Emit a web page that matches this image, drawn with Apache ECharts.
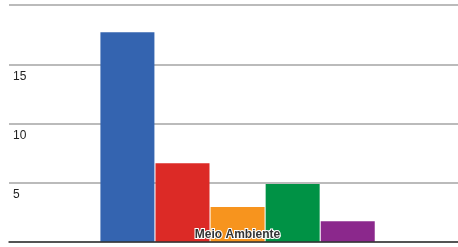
<!DOCTYPE html>
<html lang="pt">
<head>
    <meta charset="UTF-8">
    <title>Meio Ambiente</title>
    <style>
        html, body { margin: 0; padding: 0; background: #fff; }
    </style>
</head>
<body>
<div id="main" style="width: 458px; height: 247px;"></div>

<script src="https://cdn.jsdelivr.net/npm/echarts@6/dist/echarts.min.js"></script>

<script>
var categories = ['Meio Ambiente'];
var seriesNames = ['Série 1', 'Série 2', 'Série 3', 'Série 4', 'Série 5'];
var seriesValues = [17.7, 6.65, 2.95, 4.9, 1.75];
var seriesColors = ['#3464b0', '#dc2a26', '#f7941e', '#009245', '#8b288c'];

var myChart = echarts.init(document.getElementById('main'));

// empty first series: only there to nudge the bar group a few px right
var series = [{
    name: '',
    type: 'bar',
    barWidth: 8,
    barGap: '2%',
    silent: true,
    data: ['-']
}];

seriesNames.forEach(function (name, i) {
    series.push({
        name: name,
        type: 'bar',
        barWidth: 54,
        barGap: '2%',
        itemStyle: {color: seriesColors[i]},
        data: [seriesValues[i]]
    });
});

myChart.setOption({
    animation: false,
    grid: {left: 9, right: 0, top: 5, bottom: 5},
    xAxis: {
        type: 'category',
        data: categories,
        z: 10,
        axisLine: {lineStyle: {color: '#333', width: 1.5}},
        axisTick: {show: false},
        axisLabel: {
            inside: true,
            margin: 1,
            verticalAlign: 'bottom',
            padding: [0, 0, 0, 8],
            fontFamily: 'Liberation Sans',
            fontSize: 12,
            fontWeight: 'bold',
            color: '#333',
            textBorderColor: '#fff',
            textBorderWidth: 2
        }
    },
    yAxis: {
        type: 'value',
        min: 0,
        max: 20,
        interval: 5,
        axisLine: {show: false},
        axisTick: {show: false},
        splitLine: {lineStyle: {color: '#bbb', width: 2}},
        axisLabel: {
            inside: true,
            margin: 4,
            verticalAlign: 'top',
            padding: [6, 0, 0, 0],
            showMinLabel: false,
            showMaxLabel: false,
            fontFamily: 'Liberation Sans',
            fontSize: 12,
            color: '#222'
        }
    },
    series: series
});
</script>
</body>
</html>
